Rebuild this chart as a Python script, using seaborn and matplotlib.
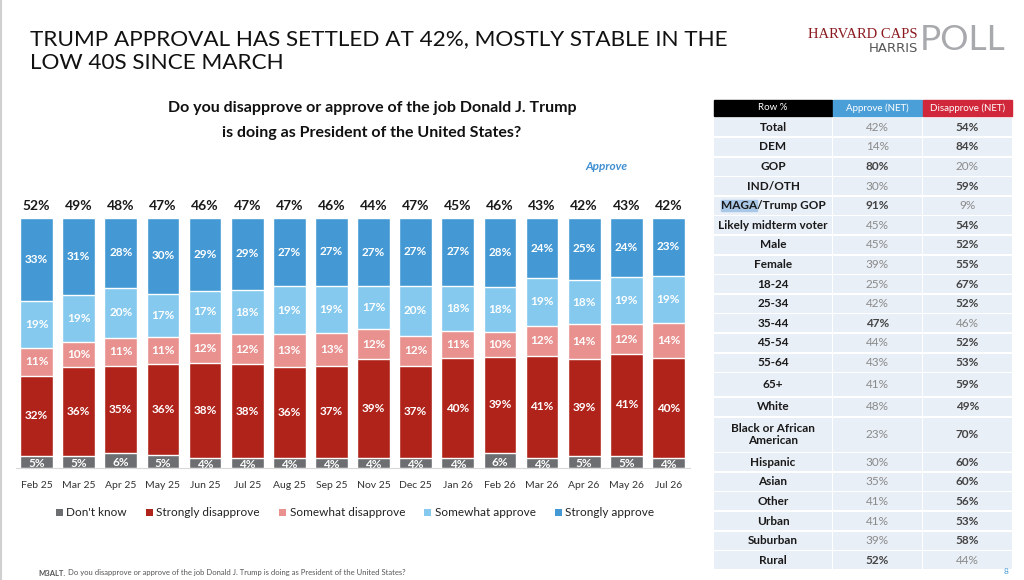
import pandas as pd
import matplotlib.pyplot as plt
import seaborn as sns
from matplotlib.patches import Rectangle, Patch

# chart data
months = ['Feb 25', 'Mar 25', 'Apr 25', 'May 25', 'Jun 25', 'Jul 25', 'Aug 25', 'Sep 25',
          'Nov 25', 'Dec 25', 'Jan 26', 'Feb 26', 'Mar 26', 'Apr 26', 'May 26', 'Jul 26']
dont_know = [5, 5, 6, 5, 4, 4, 4, 4, 4, 4, 4, 6, 4, 5, 5, 4]
strongly_dis = [32, 36, 35, 36, 38, 38, 36, 37, 39, 37, 40, 39, 41, 39, 41, 40]
somewhat_dis = [11, 10, 11, 11, 12, 12, 13, 13, 12, 12, 11, 10, 12, 14, 12, 14]
somewhat_app = [19, 19, 20, 17, 17, 18, 19, 19, 17, 20, 18, 18, 19, 18, 19, 19]
strongly_app = [33, 31, 28, 30, 29, 29, 27, 27, 27, 27, 27, 28, 24, 25, 24, 23]
approve_net = [52, 49, 48, 47, 46, 47, 47, 46, 44, 47, 45, 46, 43, 42, 43, 42]

# crosstab table
groups = ['Total', 'DEM', 'GOP', 'IND/OTH', 'MAGA/Trump GOP', 'Likely midterm voter', 'Male',
          'Female', '18-24', '25-34', '35-44', '45-54', '55-64', '65+', 'White',
          'Black or African\nAmerican', 'Hispanic', 'Asian', 'Other', 'Urban', 'Suburban', 'Rural']
approve_grp = [42, 14, 80, 30, 91, 45, 45, 39, 25, 42, 47, 44, 43, 41, 48, 23, 30, 35, 41, 41, 39, 52]
disapprove_grp = [54, 84, 20, 59, 9, 54, 52, 55, 67, 52, 46, 52, 53, 59, 49, 70, 60, 60, 56, 53, 58, 44]

layers = ["Don't know", 'Strongly disapprove', 'Somewhat disapprove', 'Somewhat approve', 'Strongly approve']
colors = ['#6d6e71', '#b0231b', '#e8918f', '#85c9ee', '#4499d4']

df = pd.DataFrame({layers[0]: dont_know, layers[1]: strongly_dis, layers[2]: somewhat_dis,
                   layers[3]: somewhat_app, layers[4]: strongly_app}, index=months)
# 100% stacked like the original Excel chart
share = df.div(df.sum(axis=1), axis=0) * 100
cum = share.cumsum(axis=1)

sns.set_style('white')
plt.rcParams['font.family'] = ['Lato', 'DejaVu Sans']

fig = plt.figure(figsize=(10.24, 5.8), dpi=100)
ax = fig.add_axes([15.5 / 1024, 1 - 468 / 580, 674 / 1024, 250 / 580])

# stacked bars: draw cumulative totals from the top layer down
for k in range(len(layers) - 1, -1, -1):
    sns.barplot(x=months, y=cum[layers[k]].values, color=colors[k], saturation=1,
                width=0.78, ax=ax, zorder=2)

for i, m in enumerate(months):
    base = 0
    for k, lay in enumerate(layers):
        h = share.loc[m, lay]
        ax.text(i, base + h / 2 - (0.6 if k == 0 else 0), f'{df.loc[m, lay]}%', ha='center', va='center',
                color='white', fontsize=8.5, fontweight='bold', zorder=3)
        base += h
    ax.annotate(f'{approve_net[i]}%', (i, 100), xytext=(0, 4), textcoords='offset points',
                ha='center', va='bottom', fontsize=10, fontweight='bold', color='#1a1a1a')

ax.set_ylim(0, 100)
ax.set_xlim(-0.5, len(months) - 0.5)
ax.set_yticks([])
for s in ['top', 'right', 'left']:
    ax.spines[s].set_visible(False)
ax.spines['bottom'].set_color('#d9d9d9')
ax.set_xticks(range(len(months)))
ax.set_xticklabels(months, fontsize=7.5, color='#333333')
ax.set_xticks([i + 0.5 for i in range(-1, len(months))], minor=True)
ax.tick_params(axis='x', which='major', length=0, pad=9)
ax.tick_params(axis='x', which='minor', length=4, color='#d9d9d9')

handles = [Patch(facecolor=c, edgecolor='none') for c in colors]
fig.legend(handles, layers, loc='center', bbox_to_anchor=(355 / 1024, 1 - 513 / 580), ncol=5,
           frameon=False, fontsize=8.5, handlelength=0.6, handleheight=0.6, handletextpad=0.3,
           columnspacing=1.6, labelcolor='#222222')

# overlay in pixel coordinates for titles, table and logo
ov = fig.add_axes([0, 0, 1, 1], zorder=-1)
ov.set_xlim(0, 1024)
ov.set_ylim(580, 0)
ov.axis('off')

ov.plot([1, 1], [0, 580], color='#d0d0d0', lw=1.5)
ov.text(30, 39, 'TRUMP APPROVAL HAS SETTLED AT 42%, MOSTLY STABLE IN THE', fontsize=16.2,
        va='center', color='#111111')
ov.text(30, 63, 'LOW 40S SINCE MARCH', fontsize=16.2, va='center', color='#111111')

ov.text(372, 108, 'Do you disapprove or approve of the job Donald J. Trump', fontsize=11.5,
        fontweight='bold', ha='center', va='center', color='#111111')
ov.text(372, 133, 'is doing as President of the United States?', fontsize=11.5,
        fontweight='bold', ha='center', va='center', color='#111111')
ov.text(607, 166, 'Approve', fontsize=8.5, fontweight='bold', style='italic', ha='center',
        va='center', color='#3f8fd2')

# logo
ov.text(918, 34, 'HARVARD CAPS', fontsize=10.5, family='Liberation Serif', color='#8b1a1f',
        ha='right', va='center')
ov.text(918, 48, 'HARRIS', fontsize=9.5, family='DejaVu Sans', color='#555555', ha='right',
        va='center')
ov.text(920, 40, 'POLL', fontsize=25.5, color='#a7a9ac', ha='left', va='center')

# table
cols = [(714, 832), (833, 922), (923, 1012)]
ov.add_patch(Rectangle((714, 100), 118, 16, color='#000000'))
ov.add_patch(Rectangle((833, 100), 89, 16, color='#4a9fd8'))
ov.add_patch(Rectangle((923, 100), 89, 16, color='#d0283a'))
ov.text(773, 108, 'Row %', color='white', fontsize=7, ha='center', va='center')
ov.text(877.5, 108, 'Approve (NET)', color='white', fontsize=7, ha='center', va='center')
ov.text(967.5, 108, 'Disapprove (NET)', color='white', fontsize=7, ha='center', va='center')

row_h = 19.6
heights = [row_h] * 13 + [row_h * 1.27, row_h, row_h * 1.82] + [row_h] * 6
y = 117.5
maga_text = None
for g, a, d, h in zip(groups, approve_grp, disapprove_grp, heights):
    for x0, x1 in cols:
        ov.add_patch(Rectangle((x0, y + 0.8), x1 - x0, h - 1.6, color='#e9eff7', lw=0))
    yc = y + h / 2
    t = ov.text(773, yc, g, fontsize=8.5, fontweight='bold', ha='center', va='center',
                color='#1a1a1a', linespacing=1.15, zorder=3)
    if g.startswith('MAGA'):
        maga_text = t
    ov.text(877.5, yc, f'{a}%', fontsize=8.5, ha='center', va='center',
            color='#444444' if a > d else '#8a8a8a', fontweight='bold' if a > d else 'normal')
    ov.text(967.5, yc, f'{d}%', fontsize=8.5, ha='center', va='center',
            color='#444444' if d > a else '#8a8a8a', fontweight='bold' if d > a else 'normal')
    y += h

# selection highlight behind "MAGA", footnote placed after its bold code
fig.canvas.draw()
r = fig.canvas.get_renderer()
bb = maga_text.get_window_extent(r)
tmp = ov.text(0, 0, 'MAGA', fontsize=8.5, fontweight='bold')
w = tmp.get_window_extent(r).width
tmp.remove()
ov.add_patch(Rectangle((bb.x0, 580 - bb.y1), w, bb.height, color='#a9c7e6', zorder=2))

code = ov.text(38, 573, 'M3ALT.', fontsize=5.5, fontweight='bold', color='#555555', va='center')
cw = code.get_window_extent(r).width
ov.text(38 + cw + 3, 573, 'Do you disapprove or approve of the job Donald J. Trump is doing as President of the United States?',
        fontsize=5.5, color='#555555', va='center')
ov.text(1006, 572, '8', fontsize=6, color='#4a9fd8', ha='center', va='center')

fig.savefig('out.png', dpi=100)
